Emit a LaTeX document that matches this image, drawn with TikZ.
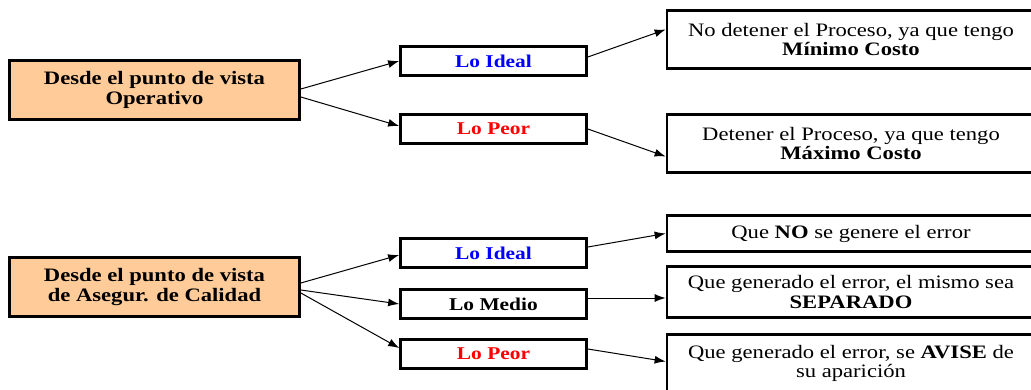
\documentclass[tikz,border=0pt]{standalone}
\usepackage{fontspec}
\setmainfont{Liberation Serif}[FakeStretch=1.19]
\usetikzlibrary{arrows.meta}
\definecolor{naranja}{RGB}{255,204,153}

\begin{document}
\begin{tikzpicture}[x=1pt, y=-1pt,
	vista/.style={draw, line width=2.7pt, fill=naranja, minimum width=290pt, minimum height=59pt, align=center, font=\fontsize{19}{19.5}\selectfont\bfseries, inner sep=0pt},
	caso/.style={draw, line width=2.7pt, minimum width=186pt, minimum height=29pt, font=\fontsize{18}{19}\selectfont\bfseries, inner sep=0pt},
	efecto/.style={draw, line width=2.7pt, minimum width=368pt, align=center, font=\fontsize{19}{19.5}\selectfont, inner sep=0pt},
	flecha/.style={-{Latex[length=11pt, width=8pt]}, line width=1pt}]
	\useasboundingbox (0,0) rectangle (1031,390);

	\node[vista](op) at (154.5,90) {Desde el punto de vista\\Operativo};
	\node[caso, text=blue](ideal1) at (493.5,61) {Lo Ideal};
	\node[caso, text=red](peor1) at (493.5,129) {Lo Peor};
	\node[efecto, minimum height=58pt](min) at (851,39.5) {No detener el Proceso, ya que tengo\\\textbf{Mínimo Costo}};
	\node[efecto, minimum height=58pt](max) at (851,143.5) {Detener el Proceso, ya que tengo\\\textbf{Máximo Costo}};

	\node[vista](cal) at (154.5,287) {Desde el punto de vista\\de Asegur. de Calidad};
	\node[caso, text=blue](ideal2) at (493.5,253) {Lo Ideal};
	\node[caso](medio) at (493.5,304) {Lo Medio};
	\node[caso, text=red](peor2) at (493.5,354) {Lo Peor};
	\node[efecto, minimum height=36pt](noerr) at (851,233.5) {Que \textbf{NO} se genere el error};
	\node[efecto, minimum height=51pt](sep) at (851,292) {Que generado el error, el mismo sea\\\textbf{SEPARADO}};
	\node[efecto, minimum height=58pt](avise) at (851,363.5) {Que generado el error, se \textbf{AVISE} de\\su aparición};

	\draw[flecha] ([yshift=1pt]op.east) -- (ideal1.west);
	\draw[flecha] ([yshift=-7pt]op.east) -- ([yshift=3pt]peor1.west);
	\draw[flecha] ([yshift=4pt]ideal1.east) -- ([yshift=10pt]min.west);
	\draw[flecha] (peor1.east) -- ([yshift=-13pt]max.west);

	\draw[flecha] ([yshift=4pt]cal.east) -- ([yshift=-2pt]ideal2.west);
	\draw[flecha] ([yshift=-3pt]cal.east) -- (medio.west);
	\draw[flecha] ([yshift=-6pt]cal.east) -- ([yshift=6pt]peor2.west);
	\draw[flecha] ([yshift=6pt]ideal2.east) -- (noerr.west);
	\draw[flecha] ([yshift=6pt]medio.east) -- ([yshift=-6pt]sep.west);
	\draw[flecha] ([yshift=5pt]peor2.east) -- ([yshift=2pt]avise.west);
\end{tikzpicture}
\end{document}
